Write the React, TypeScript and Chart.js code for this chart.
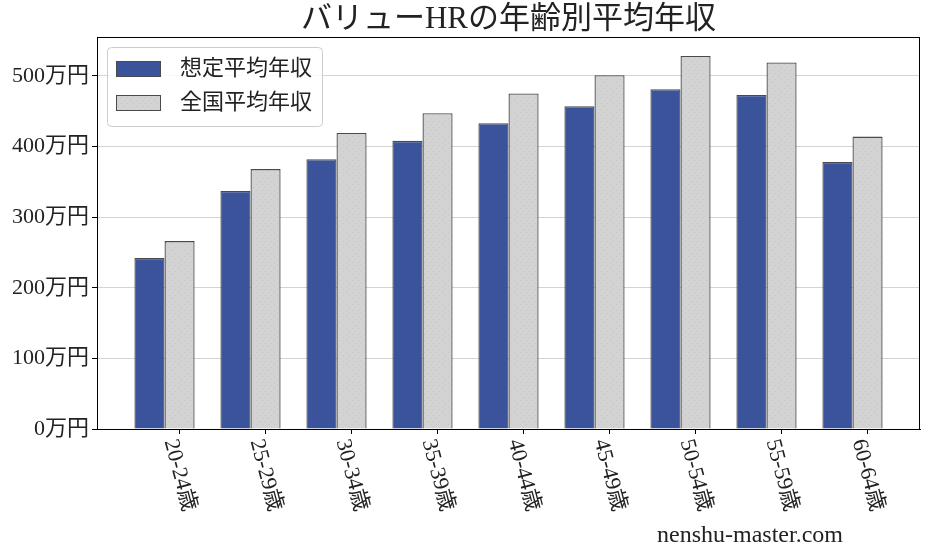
import React, { useEffect, useRef } from 'react';
import { Chart, registerables } from 'chart.js';

Chart.register(...registerables);

const categories = ['20-24歳', '25-29歳', '30-34歳', '35-39歳', '40-44歳', '45-49歳', '50-54歳', '55-59歳', '60-64歳'];
const assumedIncome = [242, 337, 382, 408, 433, 457, 481, 473, 378];
const nationalIncome = [266, 368, 419, 447, 475, 501, 528, 519, 414];
const yTicks = [0, 100, 200, 300, 400, 500];
const seriesLabels = ['想定平均年収', '全国平均年収'];
const titleText = 'バリューHRの年齢別平均年収';
const watermarkText = 'nenshu-master.com';

const FONT = '"Liberation Serif", "Noto Sans CJK JP", serif';
const BLUE = '#3b539b';
const GRAY = '#d3d3d3';
const EDGE = '#4a4a4a';
const TEXT = '#222222';

export default function App() {
  const ref = useRef<HTMLCanvasElement | null>(null);

  useEffect(() => {
    const canvas = ref.current;
    if (!canvas) return;
    const ctx = canvas.getContext('2d')!;

    const pc = document.createElement('canvas');
    pc.width = 6;
    pc.height = 6;
    const pctx = pc.getContext('2d')!;
    pctx.fillStyle = GRAY;
    pctx.fillRect(0, 0, 6, 6);
    pctx.fillStyle = '#c6c6c6';
    pctx.fillRect(1, 1, 1, 1);
    pctx.fillRect(4, 4, 1, 1);
    const pattern = ctx.createPattern(pc, 'repeat') || GRAY;

    const decor = {
      id: 'decor',
      afterDraw(chart: any) {
        const c = chart.ctx;
        const { left, right, top, bottom } = chart.chartArea;
        const xs = chart.scales.x;
        c.save();
        // frame
        c.strokeStyle = '#000';
        c.lineWidth = 1;
        c.strokeRect(Math.round(left) + 0.5, Math.round(top) + 0.5, Math.round(right - left) - 1, Math.round(bottom - top));
        // title
        c.fillStyle = TEXT;
        c.font = `31px ${FONT}`;
        c.textAlign = 'center';
        c.textBaseline = 'middle';
        c.fillText(titleText, (left + right) / 2, 20);
        // rotated x labels
        const fs = 22;
        c.font = `${fs}px ${FONT}`;
        const th = (75 * Math.PI) / 180;
        categories.forEach((lab, i) => {
          const px = xs.getPixelForValue(i + 0.175);
          const w = c.measureText(lab).width;
          const H = w * Math.sin(th) + fs * Math.cos(th);
          const y0 = bottom + 8;
          c.save();
          c.translate(px, y0 + H / 2);
          c.rotate(th);
          c.textAlign = 'center';
          c.textBaseline = 'middle';
          c.fillText(lab, 0, 0);
          c.restore();
        });
        // legend
        const lx = 107, ly = 47, lw = 215, lh = 79;
        c.beginPath();
        (c as any).roundRect(lx + 0.5, ly + 0.5, lw, lh, 4);
        c.fillStyle = 'rgba(255,255,255,0.85)';
        c.fill();
        c.strokeStyle = '#cccccc';
        c.stroke();
        const fills = [BLUE, pattern];
        const rows = [69, 103];
        c.font = `22px ${FONT}`;
        c.textAlign = 'left';
        c.textBaseline = 'middle';
        seriesLabels.forEach((lab, i) => {
          c.fillStyle = fills[i] as any;
          c.fillRect(116, rows[i] - 8, 45, 16);
          c.strokeStyle = EDGE;
          c.strokeRect(116.5, rows[i] - 7.5, 44, 15);
          c.fillStyle = TEXT;
          c.fillText(lab, 180, rows[i]);
        });
        // watermark
        c.font = `24px ${FONT}`;
        c.textAlign = 'center';
        c.fillStyle = TEXT;
        c.fillText(watermarkText, 750, 536);
        c.restore();
      },
    };

    const chart = new Chart(ctx, {
      type: 'bar',
      data: {
        datasets: [
          {
            label: seriesLabels[0],
            data: assumedIncome.map((v, i) => ({ x: i, y: v })),
            backgroundColor: BLUE,
            borderColor: EDGE,
            borderWidth: 1.3,
            borderSkipped: 'start',
            categoryPercentage: 0.7,
            barPercentage: 1.0,
          },
          {
            label: seriesLabels[1],
            data: nationalIncome.map((v, i) => ({ x: i, y: v })),
            backgroundColor: pattern as any,
            borderColor: EDGE,
            borderWidth: 1.3,
            borderSkipped: 'start',
            categoryPercentage: 0.7,
            barPercentage: 1.0,
          },
        ],
      },
      options: {
        animation: false,
        responsive: false,
        layout: { padding: { top: 37, right: 7, left: 0, bottom: 0 } },
        plugins: {
          legend: { display: false },
          title: { display: false },
          tooltip: { enabled: false },
        },
        scales: {
          x: {
            type: 'linear',
            offset: false,
            min: -0.785,
            max: 8.785,
            afterBuildTicks: (s: any) => {
              s.ticks = categories.map((_, i) => ({ value: i + 0.175 }));
            },
            afterFit: (s: any) => {
              s.height = 126;
            },
            ticks: { display: false },
            grid: { offset: false, drawOnChartArea: false, drawTicks: true, tickLength: 5, tickColor: '#000' },
            border: { display: true, color: '#000', width: 1 },
          },
          y: {
            min: 0,
            max: 555,
            afterBuildTicks: (s: any) => {
              s.ticks = yTicks.map((v) => ({ value: v }));
            },
            afterFit: (s: any) => {
              s.width = 97;
            },
            ticks: {
              callback: (v: any) => `${v}万円`,
              font: { family: FONT, size: 22 },
              color: TEXT,
              padding: 3,
            },
            grid: { color: '#d3d3d3', tickLength: 5, tickColor: '#000' },
            border: { display: true, color: '#000', width: 1 },
          },
        },
      } as any,
      plugins: [decor],
    });

    return () => chart.destroy();
  }, []);

  return (
    <div style={{ position: 'fixed', left: 0, top: 0, width: 927, height: 555, background: '#fff' }}>
      <canvas ref={ref} width={927} height={555} style={{ display: 'block' }} />
    </div>
  );
}
